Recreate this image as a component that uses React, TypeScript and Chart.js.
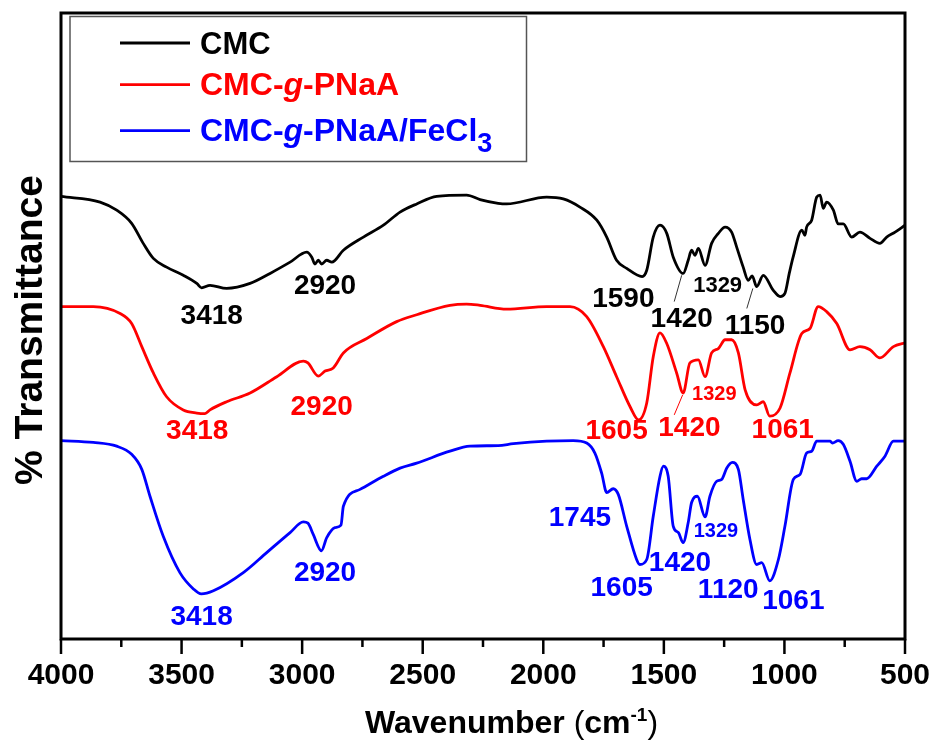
import React, { useEffect, useRef } from "react";
import { Chart, registerables } from "chart.js";

Chart.register(...registerables);

const FONT = "'Liberation Sans', Arial, Helvetica, sans-serif";

// ---- Data (wavenumber cm^-1, % transmittance, offset traces) ----
const cmcX = [4000,3838,3769,3707,3659,3617,3562,3493,3437,3417,3382,3313,3216,3133,3050,2981,2960,2947,2933,2919,2898,2877,2829,2746,2663,2594,2525,2442,2318,2262,2187,2152,1986,1917,1848,1778,1737,1696,1654,1590,1571,1544,1516,1488,1461,1420,1399,1385,1371,1357,1329,1302,1274,1246,1219,1198,1171,1150,1134,1115,1088,1046,1018,998,980,964,928,915,908,887,866,852,839,825,797,777,756,721,687,645,604,576,541,500];
const cmcY = [70.7,69.8,68.5,66.4,63.2,60.8,59.4,58.1,56.8,56.1,56.5,56.0,56.8,58.4,60.2,61.8,61.0,59.9,60.5,59.9,60.5,60.2,62.1,64.2,66.1,68.2,69.5,70.7,70.9,70.2,69.6,69.5,70.6,70.3,69.0,66.9,64.2,60.5,59.2,57.9,58.9,64.2,66.1,64.8,61.0,58.4,60.5,62.1,61.3,62.4,59.7,63.2,64.8,65.8,65.0,62.6,59.4,57.3,58.0,56.3,58.1,55.7,54.7,55.2,58.4,61.0,65.3,64.5,65.8,66.9,70.6,70.9,68.8,69.8,68.5,66.3,66.3,64.2,65.0,64.0,63.2,64.2,65.0,66.1];

const graftX = [4000,3866,3755,3707,3665,3617,3562,3493,3437,3403,3382,3313,3216,3105,2995,2976,2933,2905,2871,2829,2732,2608,2525,2387,2318,2262,2152,1986,1889,1820,1751,1696,1640,1605,1571,1544,1516,1488,1447,1420,1392,1357,1329,1302,1274,1246,1219,1191,1163,1115,1088,1061,1018,977,928,894,860,825,783,728,687,645,604,548,500];
const graftY = [53.1,53.1,52.0,50.4,46.7,42.5,38.7,36.6,36.1,36.0,36.6,37.9,39.3,41.9,44.4,44.1,42.0,42.8,43.3,45.7,48.0,50.7,51.8,53.3,53.5,53.3,52.7,53.1,53.1,51.5,46.7,41.9,37.1,35.0,37.7,45.1,48.9,47.2,42.5,39.3,44.1,44.6,41.9,45.7,46.4,47.8,47.8,45.7,39.8,37.4,37.9,35.6,36.9,42.5,48.8,49.6,53.1,52.3,50.4,46.2,46.7,46.2,44.9,46.7,47.3];

const ironX = [4000,3866,3769,3707,3665,3631,3576,3507,3451,3418,3368,3244,3147,3050,2995,2976,2954,2920,2898,2864,2839,2829,2760,2663,2594,2525,2387,2304,2187,2124,1986,1876,1820,1786,1758,1737,1710,1689,1654,1613,1600,1571,1544,1516,1502,1482,1461,1440,1420,1399,1385,1361,1329,1309,1281,1260,1239,1216,1191,1171,1143,1115,1094,1061,1025,998,963,935,908,887,866,811,801,777,756,728,700,680,659,617,583,548,500];
const ironY = [31.7,31.4,30.8,29.5,27.1,22.8,16.4,10.6,8.0,7.2,7.7,10.6,13.8,17.0,18.7,18.5,16.7,14.1,16.2,17.8,18.2,21.2,23.9,26.0,27.3,28.1,30.0,30.8,30.9,31.2,31.6,31.7,31.3,29.7,26.5,23.4,24.0,23.1,18.0,12.7,11.9,12.7,19.6,26.0,27.6,26.0,18.0,17.0,15.4,18.6,21.8,22.8,19.5,22.8,25.2,25.5,27.3,28.2,27.1,22.3,15.9,11.9,12.2,9.3,12.7,18.0,25.5,26.3,29.7,30.0,31.6,31.6,31.3,31.7,31.1,28.4,25.2,25.6,25.6,27.6,29.2,31.6,31.6];

const xTickValues = [4000, 3500, 3000, 2500, 2000, 1500, 1000, 500];

// Peak annotations: [text, wavenumber, transmittance, size]
const cmcPeaks: [string, number, number, number][] = [
  ["3418", 3375, 51.9, 28], ["2920", 2905, 56.7, 28], ["1590", 1668, 54.7, 28],
  ["1420", 1426, 51.5, 28], ["1329", 1277, 56.7, 22], ["1150", 1122, 50.4, 28],
];
const graftPeaks: [string, number, number, number][] = [
  ["3418", 3435, 33.6, 28], ["2920", 2919, 37.4, 28], ["1605", 1696, 33.6, 28],
  ["1420", 1394, 34.0, 28], ["1329", 1291, 39.4, 20], ["1061", 1007, 33.7, 28],
];
const ironPeaks: [string, number, number, number][] = [
  ["3418", 3417, 3.8, 28], ["2920", 2905, 10.9, 28], ["1745", 1848, 19.7, 28],
  ["1605", 1675, 8.5, 28], ["1420", 1433, 12.5, 28], ["1329", 1284, 17.4, 20],
  ["1120", 1233, 8.2, 28], ["1061", 963, 6.4, 28],
];
// leader lines: [x1, y1, x2, y2]
const cmcLeaders: [number, number, number, number][] = [[1457, 53.9, 1426, 58.1], [1156, 52.8, 1131, 56.0]];
const graftLeaders: [number, number, number, number][] = [[1457, 35.8, 1422, 39.0]];

const BLACK = "#000000";
const RED = "#ff0000";
const BLUE = "#0000ff";

const overlay = {
  id: "overlay",
  afterDraw(chart: any) {
    const { ctx, chartArea: a } = chart;
    const xs = chart.scales.x;
    const ys = chart.scales.y;
    ctx.save();

    // frame
    ctx.strokeStyle = "#000";
    ctx.lineWidth = 3;
    ctx.strokeRect(a.left, a.top, a.right - a.left, a.bottom - a.top);

    // tick marks (major + minor)
    ctx.lineWidth = 2.5;
    for (const t of xs.ticks) {
      const px = xs.getPixelForValue(t.value);
      const len = t.value % 500 === 0 ? 15 : 8;
      ctx.beginPath();
      ctx.moveTo(px, a.bottom);
      ctx.lineTo(px, a.bottom + len);
      ctx.stroke();
    }

    // peak labels
    const drawPeaks = (list: [string, number, number, number][], color: string) => {
      ctx.fillStyle = color;
      ctx.textAlign = "center";
      ctx.textBaseline = "alphabetic";
      for (const [txt, wn, t, size] of list) {
        ctx.font = `bold ${size}px ${FONT}`;
        ctx.fillText(txt, xs.getPixelForValue(wn), ys.getPixelForValue(t) + 0.358 * size);
      }
    };
    const drawLeaders = (list: [number, number, number, number][], color: string) => {
      ctx.strokeStyle = color;
      ctx.lineWidth = 1;
      for (const [x1, y1, x2, y2] of list) {
        ctx.beginPath();
        ctx.moveTo(xs.getPixelForValue(x1), ys.getPixelForValue(y1));
        ctx.lineTo(xs.getPixelForValue(x2), ys.getPixelForValue(y2));
        ctx.stroke();
      }
    };
    drawPeaks(cmcPeaks, BLACK);
    drawPeaks(graftPeaks, RED);
    drawPeaks(ironPeaks, BLUE);
    drawLeaders(cmcLeaders, "#333333");
    drawLeaders(graftLeaders, RED);

    // legend
    ctx.fillStyle = "#fff";
    ctx.fillRect(70, 16.5, 456.5, 145);
    ctx.strokeStyle = "#555";
    ctx.lineWidth = 1.5;
    ctx.strokeRect(70, 16.5, 456.5, 145);
    const rows: { color: string; base: number; parts: [string, string, number, number][] }[] = [
      { color: BLACK, base: 53.7, parts: [["CMC", "bold", 31, 0]] },
      { color: RED, base: 95.3, parts: [["CMC-", "bold", 32, 0], ["g", "italic bold", 32, 0], ["-PNaA", "bold", 32, 0]] },
      { color: BLUE, base: 141.3, parts: [["CMC-", "bold", 32, 0], ["g", "italic bold", 32, 0], ["-PNaA/FeCl", "bold", 32, 0], ["3", "bold", 27, 11]] },
    ];
    ctx.textAlign = "left";
    ctx.textBaseline = "alphabetic";
    for (const r of rows) {
      ctx.strokeStyle = r.color;
      ctx.lineWidth = 2.8;
      ctx.beginPath();
      ctx.moveTo(120, r.base - 10.7);
      ctx.lineTo(190, r.base - 10.7);
      ctx.stroke();
      ctx.fillStyle = r.color;
      let cx = 200;
      for (const [txt, style, size, dy] of r.parts) {
        ctx.font = `${style} ${size}px ${FONT}`;
        ctx.fillText(txt, cx, r.base + dy);
        cx += ctx.measureText(txt).width;
      }
    }

    // x title
    ctx.fillStyle = "#000";
    ctx.textAlign = "left";
    const xb = 733;
    const parts: [string, string, number, number][] = [
      ["Wavenumber ", "bold", 32, 0],
      ["(", "", 32, 0],
      ["cm", "bold", 32, 0],
      ["-1", "bold", 19, -12],
      [")", "", 32, 0],
    ];
    let tx = 365;
    for (const [txt, w, size, dy] of parts) {
      ctx.font = `${w} ${size}px ${FONT}`.trim();
      ctx.fillText(txt, tx, xb + dy);
      tx += ctx.measureText(txt).width;
    }

    // y title
    ctx.translate(28, 330);
    ctx.rotate(-Math.PI / 2);
    ctx.textAlign = "center";
    ctx.font = `bold 39px ${FONT}`;
    ctx.fillText("% Transmittance", 0, 14);

    ctx.restore();
  },
};

export default function App() {
  const ref = useRef<HTMLCanvasElement>(null);
  useEffect(() => {
    const mk = (xs: number[], ys: number[]) => xs.map((x, i) => ({ x, y: ys[i] }));
    const ds = (label: string, color: string, data: any[]) => ({
      label,
      data,
      borderColor: color,
      backgroundColor: color,
      borderWidth: 2.8,
      pointRadius: 0,
      fill: false,
      cubicInterpolationMode: "monotone" as const,
    });
    const chart = new Chart(ref.current as HTMLCanvasElement, {
      type: "line",
      data: {
        datasets: [
          ds("CMC", BLACK, mk(cmcX, cmcY)),
          ds("CMC-g-PNaA", RED, mk(graftX, graftY)),
          ds("CMC-g-PNaA/FeCl3", BLUE, mk(ironX, ironY)),
        ],
      },
      options: {
        responsive: false,
        animation: false,
        layout: { padding: { left: 61, right: 30, top: 13, bottom: 0 } },
        plugins: { legend: { display: false }, tooltip: { enabled: false } },
        scales: {
          x: {
            type: "linear",
            reverse: true,
            min: 500,
            max: 4000,
            ticks: {
              stepSize: 250,
              autoSkip: false,
              maxRotation: 0,
              padding: 19,
              color: "#000",
              font: { family: FONT, size: 30, weight: "bold" },
              callback: (v: any) => (xTickValues.includes(Number(v)) ? String(v) : ""),
            },
            grid: { display: false, drawTicks: false },
            border: { display: false },
            afterFit: (s: any) => {
              s.height = 103;
              s.paddingLeft = 0;
              s.paddingRight = 0;
            },
          },
          y: { display: false, min: 0, max: 100 },
        },
      },
      plugins: [overlay],
    });
    return () => chart.destroy();
  }, []);
  return (
    <div style={{ position: "absolute", left: 0, top: 0, width: 935, height: 742, background: "#fff" }}>
      <canvas ref={ref} width={935} height={742} style={{ display: "block", width: 935, height: 742 }} />
    </div>
  );
}
